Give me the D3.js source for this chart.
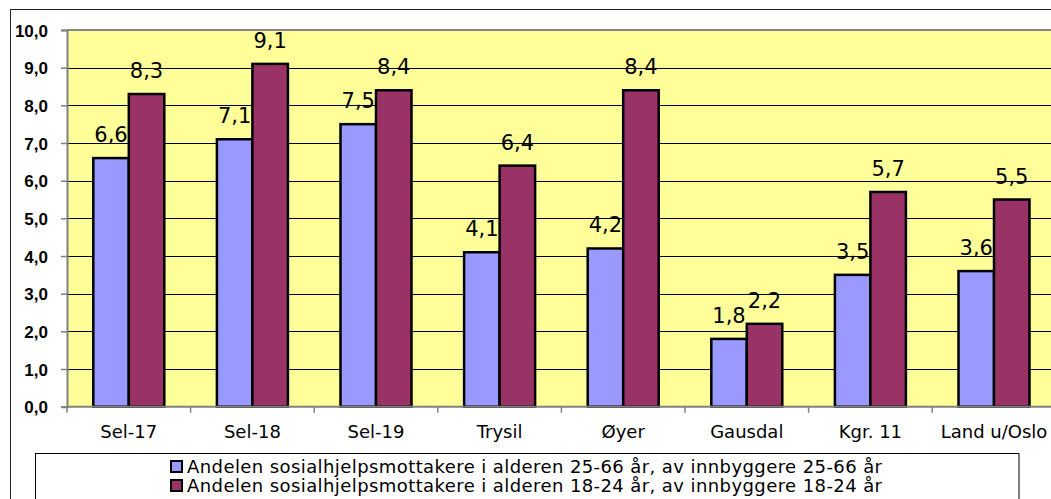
<!DOCTYPE html>
<html><head><meta charset="utf-8">
<script src="https://cdn.jsdelivr.net/npm/d3@7"></script>
<style>body{margin:0;background:#fff;overflow:hidden}svg{display:block}</style>
</head><body>
<script>
const categories = ["Sel-17","Sel-18","Sel-19","Trysil","Øyer","Gausdal","Kgr. 11","Land u/Oslo"];
const series25_66 = [6.6,7.1,7.5,4.1,4.2,1.8,3.5,3.6];
const series18_24 = [8.3,9.1,8.4,6.4,8.4,2.2,5.7,5.5];
const seriesNames = ["Andelen sosialhjelpsmottakere i alderen 25-66 år, av innbyggere 25-66 år",
                     "Andelen sosialhjelpsmottakere i alderen 18-24 år, av innbyggere 18-24 år"];
const yTicks = [0,1,2,3,4,5,6,7,8,9,10];
const colors = ["#9999FF","#993366"];

const W=1051,H=499;
const svg=d3.select("body").append("svg").attr("width",W).attr("height",H);
const L=67, R=1055.8, T=30, B=406.7;
const x=d3.scaleBand().domain(categories).range([L,R]).paddingInner(0.4256).paddingOuter(0.2128);
const xs=d3.scaleBand().domain([0,1]).range([0,x.bandwidth()]);
const y=d3.scaleLinear().domain([0,10]).range([B,T]);
const fmt=v=>d3.format(".1f")(v).replace(".",",");

// outer frame
svg.append("rect").attr("x",10.5).attr("y",9.5).attr("width",1100).attr("height",600)
  .attr("fill","#fff").attr("stroke","#222").attr("stroke-width",1);
// plot area
svg.append("rect").attr("x",L).attr("y",T).attr("width",R-L).attr("height",B-T).attr("fill","#FFFF99");
// gridlines
svg.append("g").selectAll("line").data(yTicks.filter(d=>d>0)).join("line")
  .attr("x1",L).attr("x2",R).attr("y1",d=>Math.round(y(d))+0.5).attr("y2",d=>Math.round(y(d))+0.5)
  .attr("stroke","#000").attr("stroke-width",1);
svg.append("line").attr("x1",L).attr("x2",R).attr("y1",T).attr("y2",T).attr("stroke","#888").attr("stroke-width",2);

// bars
const data=categories.map((c,i)=>({c,v:[series25_66[i],series18_24[i]]}));
const g=svg.append("g").selectAll("g").data(data).join("g").attr("transform",d=>`translate(${x(d.c)},0)`);
g.selectAll("rect").data(d=>d.v.map((v,k)=>({v,k}))).join("rect")
  .attr("x",d=>xs(d.k)).attr("width",xs.bandwidth()).attr("y",d=>y(d.v)).attr("height",d=>B-y(d.v))
  .attr("fill",d=>colors[d.k]).attr("stroke","#000").attr("stroke-width",2.5);
g.selectAll("text").data(d=>d.v.map((v,k)=>({v,k}))).join("text")
  .attr("x",d=>xs(d.k)+xs.bandwidth()/2).attr("y",d=>y(d.v)-16).attr("text-anchor","middle")
  .attr("font-family","DejaVu Sans").attr("font-size",21).attr("fill","#000").text(d=>fmt(d.v));

// y axis
const ya=svg.append("g").attr("transform",`translate(${L},0)`)
  .call(d3.axisLeft(y).tickValues(yTicks).tickSize(6).tickPadding(13).tickFormat(fmt));
ya.select(".domain").attr("stroke","#808080").attr("stroke-width",2);
ya.selectAll(".tick line").attr("stroke","#808080").attr("stroke-width",1.5);
ya.selectAll(".tick text").attr("font-family","Liberation Sans").attr("font-weight","bold")
  .attr("font-size",17).attr("fill","#000").attr("dy","0.37em");

// x axis
svg.append("line").attr("x1",L).attr("x2",R).attr("y1",B).attr("y2",B).attr("stroke","#808080").attr("stroke-width",2);
svg.append("g").selectAll("line").data(d3.range(categories.length+1)).join("line")
  .attr("x1",i=>L+i*x.step()).attr("x2",i=>L+i*x.step()).attr("y1",B).attr("y2",B+6)
  .attr("stroke","#808080").attr("stroke-width",1.5);
svg.append("g").selectAll("text").data(categories).join("text")
  .attr("x",c=>x(c)+x.bandwidth()/2).attr("y",438).attr("text-anchor","middle")
  .attr("font-family","DejaVu Sans").attr("font-size",18).attr("fill","#000").text(c=>c);

// legend
svg.append("rect").attr("x",35.5).attr("y",453.5).attr("width",983.5).attr("height",80)
  .attr("fill","#fff").attr("stroke","#000").attr("stroke-width",1);
const lg=svg.append("g").selectAll("g").data(seriesNames).join("g")
  .attr("transform",(d,i)=>`translate(171,${461+i*19})`);
lg.append("rect").attr("width",11).attr("height",11).attr("fill",(d,i)=>colors[i]).attr("stroke","#000").attr("stroke-width",2);
lg.append("text").attr("x",16).attr("y",12).attr("font-family","DejaVu Sans").attr("font-size",18)
  .attr("textLength",695).attr("lengthAdjust","spacing")
  .attr("fill","#000").text(d=>d);
</script>
</body></html>
